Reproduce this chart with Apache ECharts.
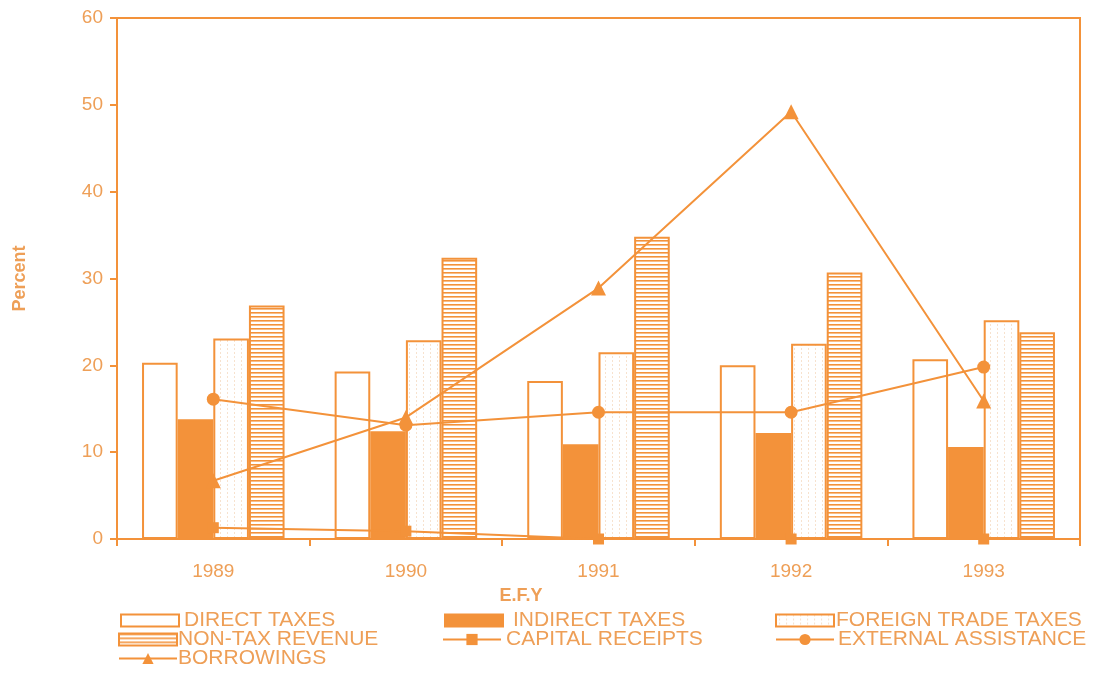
<!DOCTYPE html>
<html><head><meta charset="utf-8">
<script src="https://cdn.jsdelivr.net/npm/echarts@6/dist/echarts.min.js"></script>
<style>html,body{margin:0;padding:0;background:#fff}#c{width:1093px;height:674px}</style>
</head><body><div id="c"></div>
<script>
const years = ['1989','1990','1991','1992','1993'];
const directTaxes = [20.3, 19.3, 18.2, 20.0, 20.7];
const indirectTaxes = [13.8, 12.4, 10.9, 12.2, 10.6];
const foreignTradeTaxes = [23.1, 22.9, 21.5, 22.5, 25.2];
const nonTaxRevenue = [26.9, 32.4, 34.8, 30.7, 23.8];
const capitalReceipts = [1.3, 0.9, 0, 0, 0];
const externalAssistance = [16.1, 13.1, 14.6, 14.6, 19.8];
const borrowings = [6.7, 14.0, 28.9, 49.2, 15.9];
const yTicks = [0, 10, 20, 30, 40, 50, 60];

const ORANGE = '#F3923A';
const TEXT = '#EE9F57';
const FONT = '"Liberation Sans", Arial, sans-serif';

function stripePattern() {
  const c = document.createElement('canvas');
  c.width = 8; c.height = 4;
  const g = c.getContext('2d');
  g.fillStyle = '#ffffff'; g.fillRect(0, 0, 8, 4);
  g.fillStyle = ORANGE; g.fillRect(0, 0, 8, 1.6);
  return { image: c, repeat: 'repeat' };
}
function dotPattern() {
  const c = document.createElement('canvas');
  c.width = 7; c.height = 4;
  const g = c.getContext('2d');
  g.fillStyle = '#ffffff'; g.fillRect(0, 0, 7, 4);
  g.fillStyle = '#F7E2CE'; g.fillRect(3, 0, 1, 2);
  return { image: c, repeat: 'repeat' };
}

const chart = echarts.init(document.getElementById('c'), null, { renderer: 'canvas' });

function legend(name, left, top, iconGap, isLine) {
  return {
    data: [name], left: left, top: top, itemWidth: 58, itemHeight: isLine ? 14 : 12,
    itemGap: 0, padding: 0, icon: isLine ? undefined : 'rect',
    textStyle: { color: TEXT, fontSize: 21, fontFamily: FONT, padding: [0, 0, 0, iconGap - 5] },
    selectedMode: false
  };
}

const barBase = { type: 'bar', barGap: '0%', barCategoryGap: '26%' };
const lineBase = { type: 'line', lineStyle: { color: ORANGE, width: 2 }, z: 5 };

chart.setOption({
  animation: false,
  textStyle: { fontFamily: FONT },
  grid: { left: 117, right: 13, top: 18, bottom: 135, show: true, borderColor: ORANGE, borderWidth: 2, backgroundColor: 'transparent' },
  legend: [
    legend('DIRECT TAXES', 120, 610, 5, false),
    legend('INDIRECT TAXES', 444, 610, 10, false),
    legend('FOREIGN TRADE TAXES', 775, 610, 2, false),
    legend('NON-TAX REVENUE', 118, 629, 1, false),
    legend('CAPITAL RECEIPTS', 442, 629, 5, true),
    legend('EXTERNAL ASSISTANCE', 775, 629, 4, true),
    legend('BORROWINGS', 118, 648, 1, true)
  ],
  xAxis: {
    type: 'category', data: years,
    axisLine: { lineStyle: { color: ORANGE, width: 2 } },
    axisTick: { show: true, length: 7, lineStyle: { color: ORANGE, width: 2 } },
    axisLabel: { color: TEXT, fontSize: 19, margin: 23 },
    name: 'E.F.Y', nameLocation: 'middle', nameGap: 48,
    nameTextStyle: { color: TEXT, fontSize: 18, fontWeight: 'bold', padding: [0, 155, 0, 0] }
  },
  yAxis: {
    type: 'value', min: yTicks[0], max: yTicks[yTicks.length - 1], interval: 10,
    axisLine: { show: true, lineStyle: { color: ORANGE, width: 2 } },
    axisTick: { show: true, length: 7, lineStyle: { color: ORANGE, width: 2 } },
    splitLine: { show: false },
    axisLabel: { color: TEXT, fontSize: 19, margin: 14 },
    name: 'Percent', nameLocation: 'middle', nameGap: 88, nameRotate: 90,
    nameTextStyle: { color: TEXT, fontSize: 18, fontWeight: 'bold' }
  },
  series: [
    Object.assign({}, barBase, { name: 'DIRECT TAXES', data: directTaxes,
      itemStyle: { color: '#ffffff', borderColor: ORANGE, borderWidth: 2 } }),
    Object.assign({}, barBase, { name: 'INDIRECT TAXES', data: indirectTaxes,
      itemStyle: { color: ORANGE, borderColor: ORANGE, borderWidth: 2 } }),
    Object.assign({}, barBase, { name: 'FOREIGN TRADE TAXES', data: foreignTradeTaxes,
      itemStyle: { color: dotPattern(), borderColor: ORANGE, borderWidth: 2 } }),
    Object.assign({}, barBase, { name: 'NON-TAX REVENUE', data: nonTaxRevenue,
      itemStyle: { color: stripePattern(), borderColor: ORANGE, borderWidth: 2 } }),
    Object.assign({}, lineBase, { name: 'CAPITAL RECEIPTS', data: capitalReceipts,
      symbol: 'rect', symbolSize: 11, itemStyle: { color: ORANGE } }),
    Object.assign({}, lineBase, { name: 'EXTERNAL ASSISTANCE', data: externalAssistance,
      symbol: 'circle', symbolSize: 13, itemStyle: { color: ORANGE } }),
    Object.assign({}, lineBase, { name: 'BORROWINGS', data: borrowings,
      symbol: 'triangle', symbolSize: 15, itemStyle: { color: ORANGE } })
  ]
});
</script></body></html>
